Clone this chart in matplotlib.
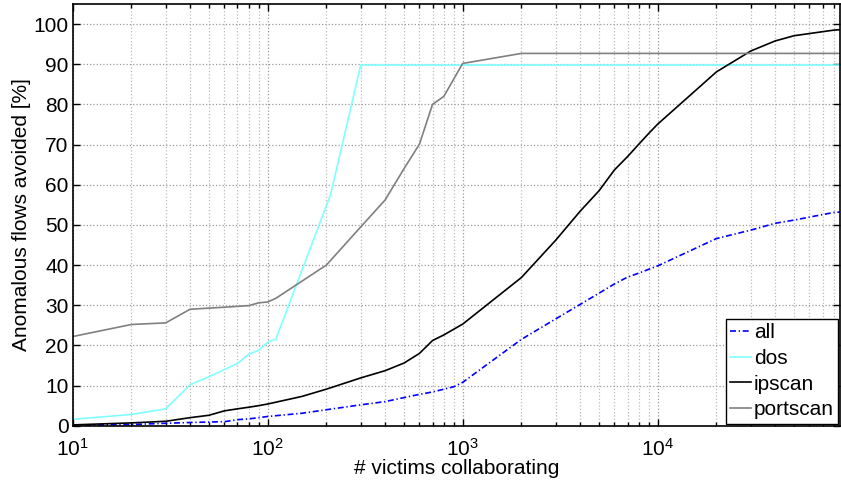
import matplotlib
matplotlib.use('Agg')
import matplotlib.pyplot as plt
from matplotlib.ticker import FixedLocator, LogLocator, NullFormatter

plt.rcParams['font.family'] = ['Liberation Sans', 'DejaVu Sans']
plt.rcParams['mathtext.fontset'] = 'custom'
plt.rcParams['mathtext.rm'] = 'Liberation Sans'
plt.rcParams['mathtext.it'] = 'Liberation Sans:italic'

# victims collaborating (x) and % anomalous flows avoided (y)
all_x = [10, 20, 30, 40, 60, 70, 80, 90, 100, 150, 300, 400, 500, 600, 700, 900, 1000,
         2000, 3000, 4000, 5000, 6000, 7000, 8000, 10000, 20000, 30000, 40000, 50000, 80000, 86000]
all_y = [0.1, 0.3, 0.6, 0.8, 1.0, 1.5, 1.7, 2.0, 2.3, 3.1, 5.2, 6.0, 7.0, 7.8, 8.4, 9.7, 10.8,
         21.5, 26.6, 30.2, 33.0, 35.3, 37.0, 38.0, 39.8, 46.6, 48.7, 50.4, 51.2, 53.1, 53.2]

dos_x = [10, 20, 30, 40, 50, 60, 70, 80, 90, 100, 110, 210, 300, 86000]
dos_y = [1.6, 2.8, 4.2, 10.2, 12.2, 14.0, 15.5, 17.8, 18.8, 20.8, 21.5, 57.5, 89.8, 89.8]

ipscan_x = [10, 20, 30, 40, 50, 60, 70, 80, 90, 100, 150, 200, 300, 400, 500, 600, 700, 800, 1000,
            2000, 3000, 4000, 5000, 6000, 7000, 8000, 9000, 10000, 20000, 30000, 40000, 50000, 80000, 86000]
ipscan_y = [0.2, 0.7, 1.1, 2.0, 2.6, 3.7, 4.2, 4.6, 5.0, 5.4, 7.3, 9.1, 11.9, 13.7, 15.6, 18.0, 21.2, 22.6, 25.3,
            36.9, 46.2, 53.4, 58.5, 63.7, 67.0, 70.1, 72.8, 75.1, 88.1, 93.3, 95.8, 97.1, 98.5, 98.6]

portscan_x = [10, 20, 30, 40, 60, 80, 90, 100, 110, 200, 300, 400, 500, 600, 700, 800, 1000, 2000, 86000]
portscan_y = [22.2, 25.2, 25.6, 29.0, 29.5, 29.9, 30.6, 30.8, 31.7, 40.0, 49.5, 56.2, 64.0, 70.1, 80.0, 82.0, 90.2, 92.7, 92.7]

fig = plt.figure(figsize=(8.41, 4.82), dpi=100)
ax = fig.add_axes([0.0864, 0.1168, 0.9124, 0.8749])

ax.plot(all_x, all_y, color='#0000ff', linestyle=(0, (3.6, 1.6, 0.8, 1.6)), lw=1.2, label='all')
ax.plot(dos_x, dos_y, color='#80ffff', lw=1.2, label='dos')
ax.plot(ipscan_x, ipscan_y, color='black', lw=1.2, label='ipscan')
ax.plot(portscan_x, portscan_y, color='#808080', lw=1.2, label='portscan')

ax.set_xscale('log')
ax.set_xlim(10, 86000)
ax.set_ylim(0, 105)
ax.set_yticks(range(0, 101, 10))
ax.xaxis.set_major_locator(FixedLocator([10, 100, 1000, 10000]))
ax.xaxis.set_minor_locator(LogLocator(base=10, subs=range(2, 10), numticks=20))
ax.xaxis.set_minor_formatter(NullFormatter())
ax.set_xticklabels(['$10^{1}$', '$10^{2}$', '$10^{3}$', '$10^{4}$'])

ax.tick_params(which='both', direction='in', top=True, right=True, labelsize=15, width=1)
ax.tick_params(which='major', length=5)
ax.tick_params(axis='x', which='major', pad=9)
ax.tick_params(axis='y', which='major', pad=3)
ax.tick_params(which='minor', length=3)
ax.grid(True, which='major', linestyle=':', color='#999999', lw=0.9)
ax.grid(True, which='minor', axis='x', linestyle=':', color='#bbbbbb', lw=0.9)
for s in ax.spines.values():
    s.set_linewidth(1.2)

ax.set_xlabel('# victims collaborating', fontsize=15, labelpad=-1)
ax.set_ylabel('Anomalous flows avoided [%]', fontsize=15, labelpad=2)

leg = ax.legend(loc='lower right', fontsize=15, fancybox=False, framealpha=1,
                edgecolor='black', borderaxespad=0.1, handlelength=1.0,
                handletextpad=0.15, labelspacing=0.32, borderpad=0.2)
leg.get_frame().set_linewidth(1.0)

fig.savefig('out.png', dpi=100)
